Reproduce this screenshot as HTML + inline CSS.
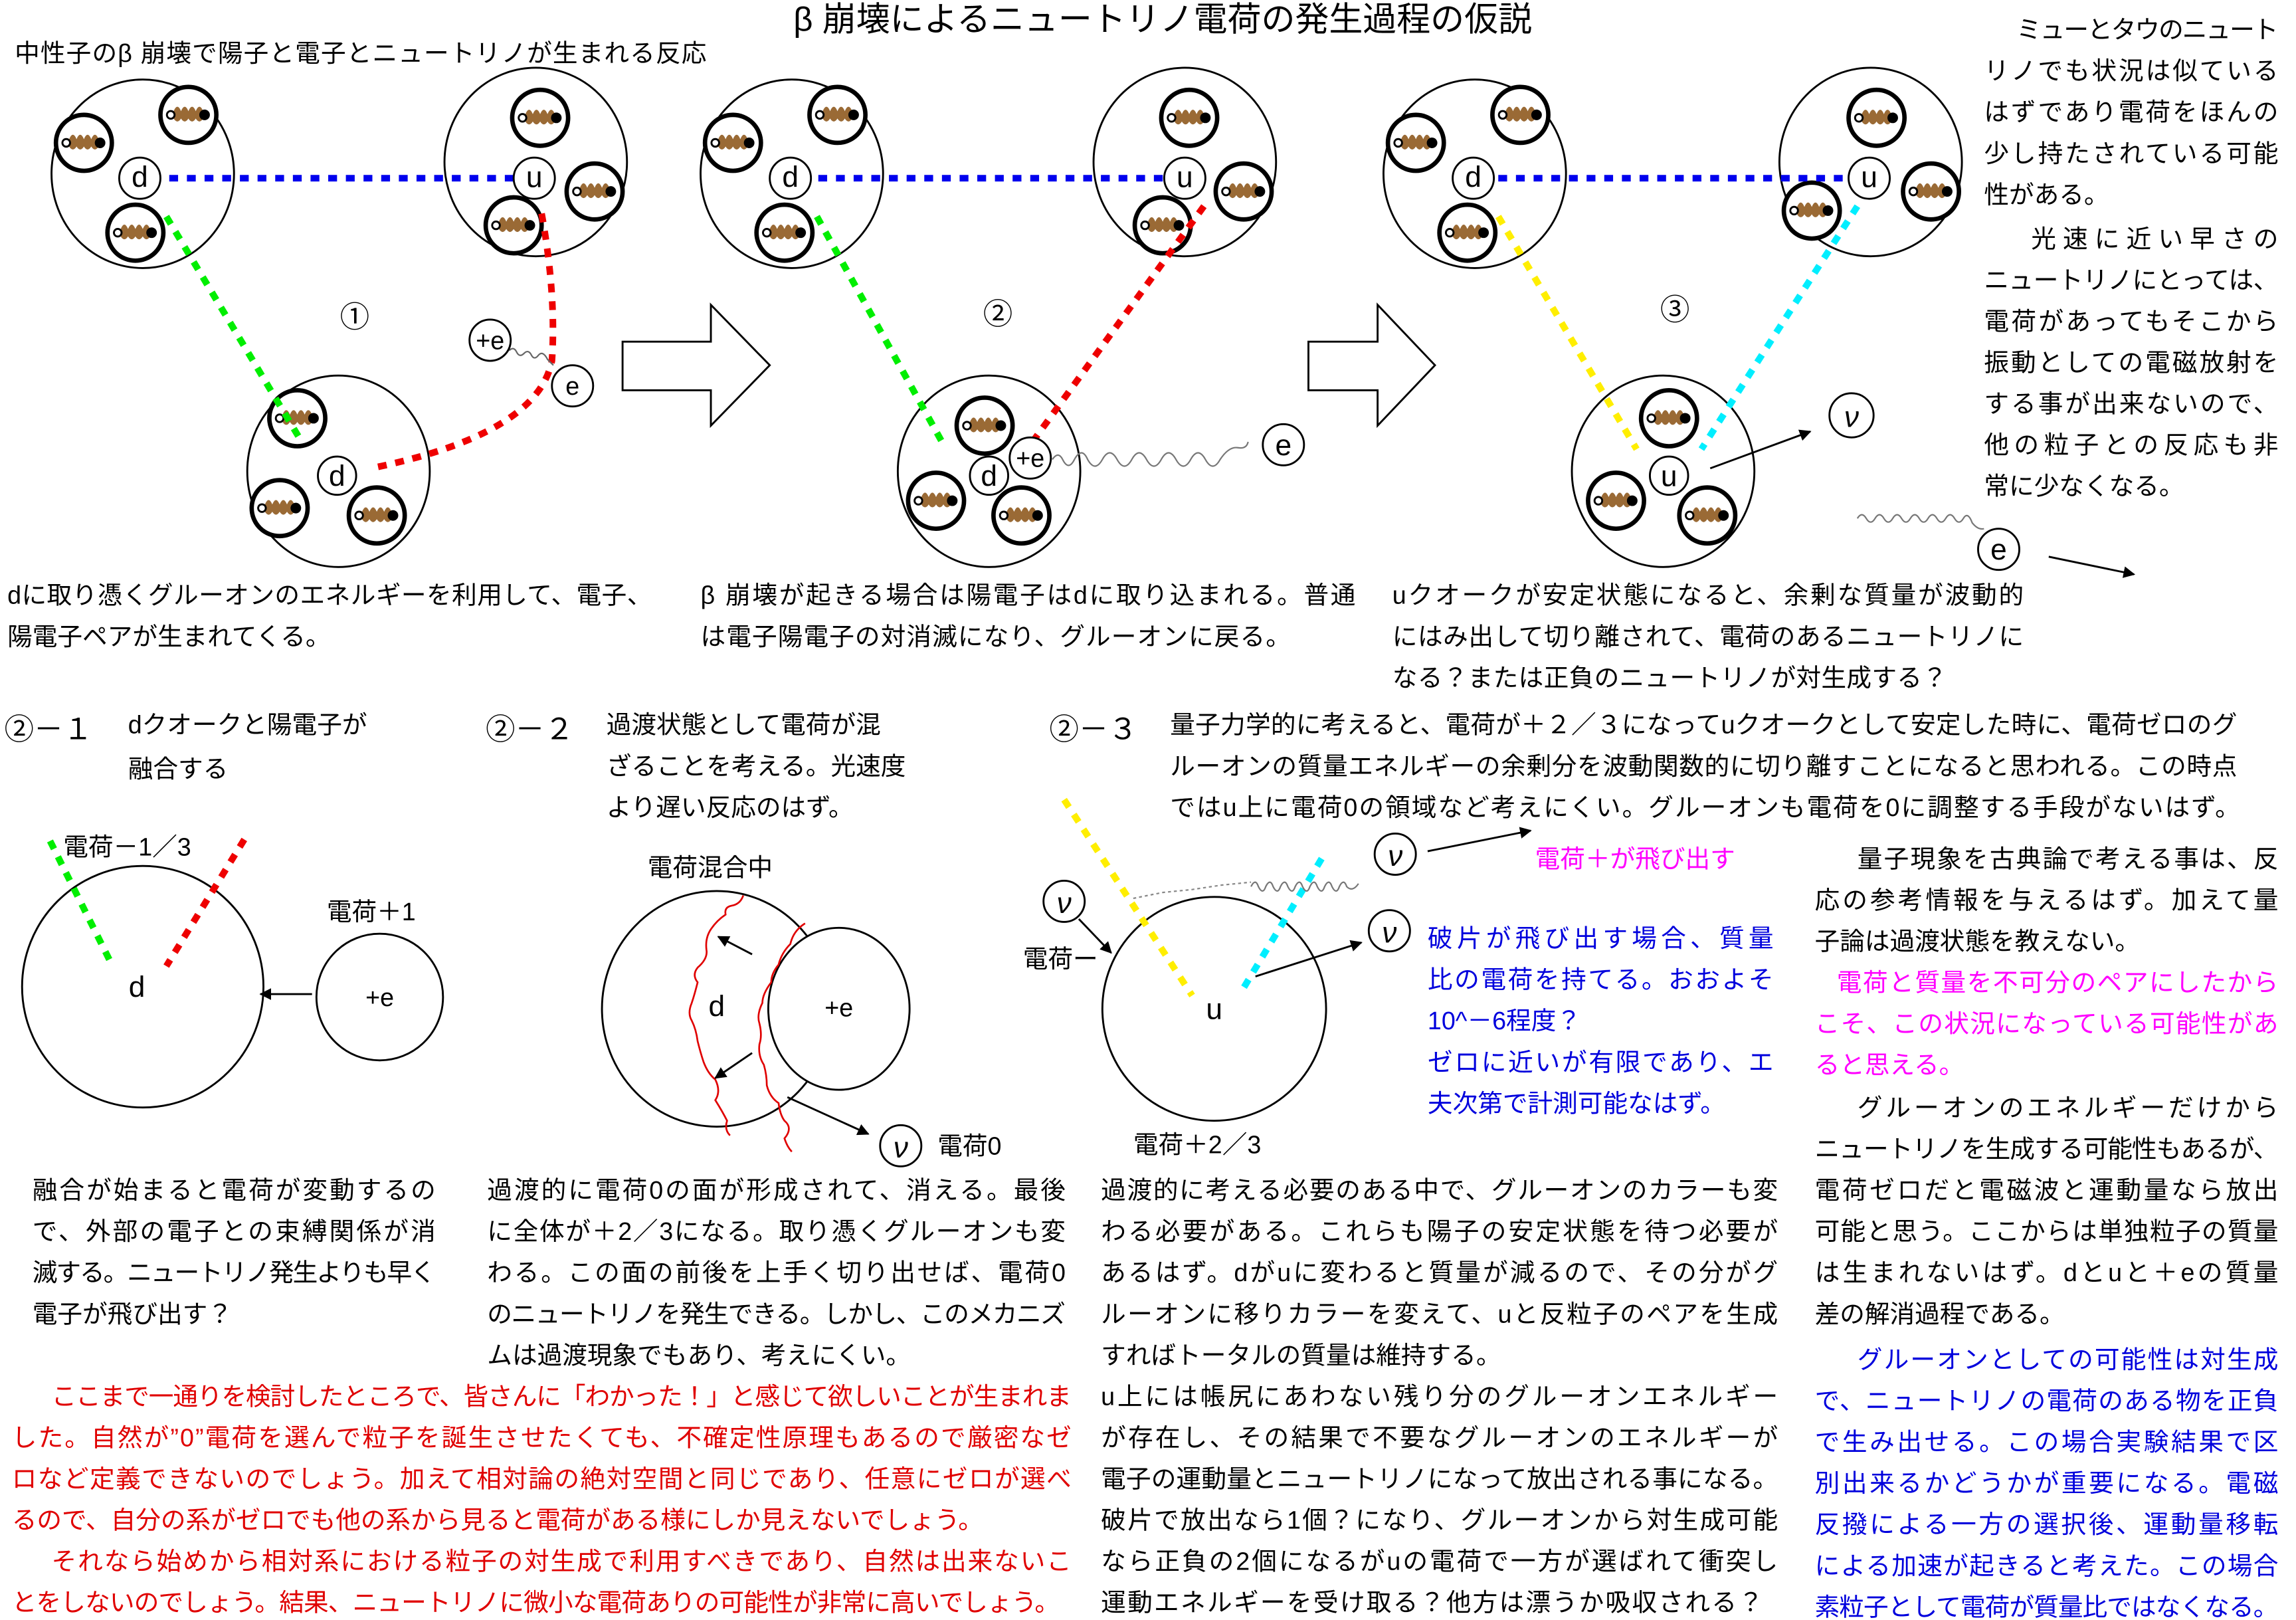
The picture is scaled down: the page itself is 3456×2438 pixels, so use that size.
<!DOCTYPE html>
<html><head><meta charset="utf-8"><style>
html,body{margin:0;padding:0;background:#fff;}
svg{display:block;}
text{font-family:"Liberation Sans","Noto Sans CJK JP",sans-serif;font-size:17px;fill:#000;}
.t{font-size:23px}
.s{font-size:20px}
.r{fill:#e00000}
.m{fill:#ff00ff}
.b{fill:#0000dd}
</style></head><body>
<svg width="3456" height="2438" viewBox="0 0 1560 1100" preserveAspectRatio="none" xmlns="http://www.w3.org/2000/svg">
<defs>
<g id="g">
<circle cx="0" cy="0" r="19" fill="#fff" stroke="#000" stroke-width="3"/>
<path d="M-10,-2.5 q2.5,-6 5,0 q2.5,-6 5,0 q2.5,-6 5,0 q2.5,-6 5,0 v5 q-2.5,4 -5,0 q-2.5,4 -5,0 q-2.5,4 -5,0 q-2.5,4 -5,0z" fill="#9a6a35"/>
<circle cx="-12" cy="0" r="2.6" fill="#fff" stroke="#000" stroke-width="1.3"/>
<circle cx="11" cy="0" r="3.6" fill="#000"/>
</g>
<marker id="ah" viewBox="0 0 10 10" refX="9" refY="5" markerWidth="8" markerHeight="8" orient="auto" markerUnits="userSpaceOnUse"><path d="M0,0L10,5L0,10z" fill="#000"/></marker>
</defs>
<rect width="1560" height="1100" fill="#fff"/>

<text class="t" x="790" y="21" text-anchor="middle">β 崩壊によるニュートリノ電荷の発生過程の仮説</text>
<text x="10" y="42" textLength="470">中性子のβ 崩壊で陽子と電子とニュートリノが生まれる反応</text>

<!-- panel 1 -->
<g fill="none" stroke="#000" stroke-width="1.3">
<ellipse cx="97" cy="118" rx="62" ry="64"/>
<ellipse cx="364" cy="110" rx="62" ry="64"/>
<ellipse cx="230" cy="320" rx="62" ry="65"/>
</g>
<use href="#g" x="57" y="97"/><use href="#g" x="128" y="78"/><use href="#g" x="92" y="158"/>
<use href="#g" x="367" y="80"/><use href="#g" x="404" y="130"/><use href="#g" x="349" y="153"/>
<use href="#g" x="202" y="284"/><use href="#g" x="190" y="345"/><use href="#g" x="256" y="350"/>
<line x1="115" y1="121" x2="350" y2="121" stroke="#0000ee" stroke-width="4.5" stroke-dasharray="6,6"/>
<line x1="113" y1="147" x2="205" y2="300" stroke="#00ee00" stroke-width="4.5" stroke-dasharray="6,6"/>
<path d="M368,145 Q378,200 375,245 Q365,295 252,318" fill="none" stroke="#ee0000" stroke-width="4.5" stroke-dasharray="6,6"/>
<circle cx="95" cy="121" r="14" fill="#fff" stroke="#000" stroke-width="1.3"/><text x="95" y="127" text-anchor="middle" class="s">d</text>
<circle cx="363" cy="121" r="14" fill="#fff" stroke="#000" stroke-width="1.3"/><text x="363" y="127" text-anchor="middle" class="s">u</text>
<circle cx="229" cy="323" r="13" fill="#fff" stroke="#000" stroke-width="1.3"/><text x="229" y="330" text-anchor="middle" class="s">d</text>
<text x="241" y="222" text-anchor="middle" class="s">①</text>
<path d="M346,238 q3,-3 5,1 q2,4 5,1 q3,-3 5,1 q2,4 5,0 q3,-3 6,3 l4,4" fill="none" stroke="#666" stroke-width="1"/>
<circle cx="333" cy="231" r="14" fill="#fff" stroke="#000" stroke-width="1.3"/><text x="333" y="237" text-anchor="middle">+e</text>
<circle cx="389" cy="262" r="14" fill="#fff" stroke="#000" stroke-width="1.3"/><text x="389" y="268" text-anchor="middle">e</text>
<path d="M423,232 H483 V207 L523,248 L483,289 V265 H423 Z" fill="#fff" stroke="#000" stroke-width="1.3"/>

<!-- panel 2 -->
<g fill="none" stroke="#000" stroke-width="1.3">
<ellipse cx="538" cy="118" rx="62" ry="64"/>
<ellipse cx="805" cy="110" rx="62" ry="64"/>
<ellipse cx="672" cy="320" rx="62" ry="65"/>
</g>
<use href="#g" x="498" y="97"/><use href="#g" x="569" y="78"/><use href="#g" x="533" y="158"/>
<use href="#g" x="808" y="80"/><use href="#g" x="845" y="130"/><use href="#g" x="790" y="153"/>
<use href="#g" x="669" y="289"/><use href="#g" x="636" y="340"/><use href="#g" x="694" y="350"/>
<line x1="556" y1="121" x2="791" y2="121" stroke="#0000ee" stroke-width="4.5" stroke-dasharray="6,6"/>
<line x1="555" y1="147" x2="640" y2="300" stroke="#00ee00" stroke-width="4.5" stroke-dasharray="6,6"/>
<line x1="818" y1="140" x2="703" y2="298" stroke="#ee0000" stroke-width="4.5" stroke-dasharray="6,6"/>
<circle cx="537" cy="121" r="14" fill="#fff" stroke="#000" stroke-width="1.3"/><text x="537" y="127" text-anchor="middle" class="s">d</text>
<circle cx="805" cy="121" r="14" fill="#fff" stroke="#000" stroke-width="1.3"/><text x="805" y="127" text-anchor="middle" class="s">u</text>
<circle cx="672" cy="323" r="13" fill="#fff" stroke="#000" stroke-width="1.3"/><text x="672" y="330" text-anchor="middle" class="s">d</text>
<path d="M715,312 q4,-6 7,0 q4,8 8,0 q5,-9 9,0 q5,9 10,0 q5,-9 10,0 q5,9 10,0 q5,-9 10,0 q5,9 10,0 q5,-9 10,0 q5,9 10,0 q5,-9 10,0 q5,9 10,0 q6,-9 12,-8 q6,1 7,-4" fill="none" stroke="#777" stroke-width="1"/>
<circle cx="700" cy="311" r="14" fill="#fff" stroke="#000" stroke-width="1.3"/><text x="700" y="317" text-anchor="middle">+e</text>
<circle cx="872" cy="302" r="14" fill="#fff" stroke="#000" stroke-width="1.3"/><text x="872" y="309" text-anchor="middle" class="s">e</text>
<text x="678" y="220" text-anchor="middle" class="s">②</text>
<path d="M889,232 H936 V207 L975,248 L936,289 V265 H889 Z" fill="#fff" stroke="#000" stroke-width="1.3"/>

<!-- panel 3 -->
<g fill="none" stroke="#000" stroke-width="1.3">
<ellipse cx="1002" cy="118" rx="62" ry="64"/>
<ellipse cx="1271" cy="110" rx="62" ry="64"/>
<ellipse cx="1130" cy="320" rx="62" ry="65"/>
</g>
<use href="#g" x="962" y="97"/><use href="#g" x="1033" y="78"/><use href="#g" x="997" y="158"/>
<use href="#g" x="1275" y="80"/><use href="#g" x="1312" y="130"/><use href="#g" x="1231" y="143"/>
<use href="#g" x="1134" y="284"/><use href="#g" x="1098" y="340"/><use href="#g" x="1160" y="350"/>
<line x1="1018" y1="121" x2="1257" y2="121" stroke="#0000ee" stroke-width="4.5" stroke-dasharray="6,6"/>
<line x1="1018" y1="147" x2="1112" y2="305" stroke="#ffee00" stroke-width="4.5" stroke-dasharray="6,6"/>
<line x1="1262" y1="140" x2="1156" y2="305" stroke="#00eeff" stroke-width="4.5" stroke-dasharray="6,6"/>
<circle cx="1001" cy="121" r="14" fill="#fff" stroke="#000" stroke-width="1.3"/><text x="1001" y="127" text-anchor="middle" class="s">d</text>
<circle cx="1270" cy="121" r="14" fill="#fff" stroke="#000" stroke-width="1.3"/><text x="1270" y="127" text-anchor="middle" class="s">u</text>
<circle cx="1134" cy="323" r="13" fill="#fff" stroke="#000" stroke-width="1.3"/><text x="1134" y="330" text-anchor="middle" class="s">u</text>
<text x="1138" y="217" text-anchor="middle" class="s">③</text>
<line x1="1162" y1="318" x2="1230" y2="293" stroke="#000" stroke-width="1.3" marker-end="url(#ah)"/>
<circle cx="1258" cy="282" r="15" fill="#fff" stroke="#000" stroke-width="1.3"/><text x="1258" y="290" text-anchor="middle" class="s" font-style="italic">ν</text>
<path d="M1262,352 q3,-5 6,0 q3,5 6,0 q3,-5 6,0 q3,5 6,0 q3,-5 6,0 q3,5 6,0 q3,-5 6,0 q3,5 6,0 q3,-5 6,0 q3,5 6,0 q3,-5 6,0 q3,5 6,0 q3,-5 6,3 q4,5 8,4" fill="none" stroke="#777" stroke-width="1"/>
<circle cx="1358" cy="373" r="14" fill="#fff" stroke="#000" stroke-width="1.3"/><text x="1358" y="380" text-anchor="middle" class="s">e</text>
<line x1="1392" y1="378" x2="1450" y2="390" stroke="#000" stroke-width="1.3" marker-end="url(#ah)"/>

<!-- right column -->
<text x="1370" y="26" textLength="178">ミューとタウのニュート</text>
<text x="1348" y="54" textLength="200">リノでも状況は似ている</text>
<text x="1348" y="82" textLength="200">はずであり電荷をほんの</text>
<text x="1348" y="110" textLength="200">少し持たされている可能</text>
<text x="1348" y="138">性がある。</text>
<text x="1380" y="168" textLength="168">光速に近い早さの</text>
<text x="1348" y="196" textLength="200">ニュートリノにとっては、</text>
<text x="1348" y="224" textLength="200">電荷があってもそこから</text>
<text x="1348" y="252" textLength="200">振動としての電磁放射を</text>
<text x="1348" y="280" textLength="200">する事が出来ないので、</text>
<text x="1348" y="308" textLength="200">他の粒子との反応も非</text>
<text x="1348" y="336">常に少なくなる。</text>

<!-- captions -->
<text x="5" y="410" textLength="438">dに取り憑くグルーオンのエネルギーを利用して、電子、</text>
<text x="5" y="438">陽電子ペアが生まれてくる。</text>
<text x="476" y="410" textLength="445">β 崩壊が起きる場合は陽電子はdに取り込まれる。普通</text>
<text x="476" y="438" textLength="401">は電子陽電子の対消滅になり、グルーオンに戻る。</text>
<text x="946" y="410" textLength="429">uクオークが安定状態になると、余剰な質量が波動的</text>
<text x="946" y="438" textLength="429">にはみ出して切り離されて、電荷のあるニュートリノに</text>
<text x="946" y="466" textLength="377">なる？または正負のニュートリノが対生成する？</text>

<!-- 2-1 -->
<text x="3" y="502" class="s">②－１</text>
<text x="87" y="498">dクオークと陽電子が</text>
<text x="87" y="528">融合する</text>
<text x="43" y="581">電荷－1／3</text>
<circle cx="97" cy="670" r="82" fill="none" stroke="#000" stroke-width="1.3"/>
<line x1="34" y1="571" x2="76" y2="655" stroke="#00ee00" stroke-width="4.5" stroke-dasharray="6,6"/>
<line x1="166" y1="570" x2="113" y2="656" stroke="#ee0000" stroke-width="4.5" stroke-dasharray="6,6"/>
<text x="93" y="677" text-anchor="middle" class="s">d</text>
<text x="222" y="625">電荷＋1</text>
<circle cx="258" cy="677" r="43" fill="none" stroke="#000" stroke-width="1.3"/>
<text x="258" y="683" text-anchor="middle">+e</text>
<line x1="212" y1="675" x2="177" y2="675" stroke="#000" stroke-width="1.3" marker-end="url(#ah)"/>
<text x="22" y="814" textLength="274">融合が始まると電荷が変動するの</text>
<text x="22" y="842" textLength="274">で、外部の電子との束縛関係が消</text>
<text x="22" y="870" textLength="274">滅する。ニュートリノ発生よりも早く</text>
<text x="22" y="898">電子が飛び出す？</text>

<!-- 2-2 -->
<text x="330" y="502" class="s">②－２</text>
<text x="412" y="498">過渡状態として電荷が混</text>
<text x="412" y="526">ざることを考える。光速度</text>
<text x="412" y="554">より遅い反応のはず。</text>
<text x="440" y="595">電荷混合中</text>
<ellipse cx="487" cy="685" rx="78" ry="80" fill="none" stroke="#000" stroke-width="1.3"/>
<ellipse cx="570" cy="685" rx="48" ry="55" fill="#fff" stroke="#000" stroke-width="1.3"/>
<path d="M505,608 q-2,6 -8,7 q-5,1 -4,6 q-6,4 -10,10 q-4,6 -3,14 q1,6 -6,12 q-4,5 0,10 q-2,8 -4,14 q-3,7 0,12 q3,6 4,14 q2,8 4,14 q3,8 8,12 q4,8 0,14 q5,8 8,14 q-2,6 2,10" fill="none" stroke="#e00000" stroke-width="1.2"/>
<path d="M547,627 q-8,5 -10,14 q-6,6 -8,14 q-5,6 -5,12 q-6,8 -6,14 q-4,8 -2,14 q2,8 0,14 q-1,8 3,14 q2,7 2,14 q2,8 8,12 q1,8 4,12 q6,5 0,12 q2,6 5,9" fill="none" stroke="#e00000" stroke-width="1.2"/>
<line x1="511" y1="648" x2="488" y2="636" stroke="#000" stroke-width="1.3" marker-end="url(#ah)"/>
<line x1="511" y1="715" x2="486" y2="732" stroke="#000" stroke-width="1.3" marker-end="url(#ah)"/>
<text x="487" y="690" text-anchor="middle" class="s">d</text>
<text x="570" y="690" text-anchor="middle">+e</text>
<line x1="535" y1="745" x2="590" y2="770" stroke="#000" stroke-width="1.3" marker-end="url(#ah)"/>
<circle cx="612" cy="778" r="14" fill="#fff" stroke="#000" stroke-width="1.3"/><text x="612" y="786" text-anchor="middle" class="s" font-style="italic">ν</text>
<text x="637" y="784">電荷0</text>
<text x="331" y="814" textLength="393">過渡的に電荷0の面が形成されて、消える。最後</text>
<text x="331" y="842" textLength="393">に全体が＋2／3になる。取り憑くグルーオンも変</text>
<text x="331" y="870" textLength="393">わる。この面の前後を上手く切り出せば、電荷0</text>
<text x="331" y="898" textLength="393">のニュートリノを発生できる。しかし、このメカニズ</text>
<text x="331" y="926">ムは過渡現象でもあり、考えにくい。</text>

<!-- 2-3 -->
<text x="713" y="502" class="s">②－３</text>
<text x="795" y="498" textLength="725">量子力学的に考えると、電荷が＋２／３になってuクオークとして安定した時に、電荷ゼロのグ</text>
<text x="795" y="526" textLength="725">ルーオンの質量エネルギーの余剰分を波動関数的に切り離すことになると思われる。この時点</text>
<text x="795" y="554" textLength="727">ではu上に電荷0の領域など考えにくい。グルーオンも電荷を0に調整する手段がないはず。</text>
<circle cx="825" cy="685" r="76" fill="none" stroke="#000" stroke-width="1.3"/>
<line x1="723" y1="543" x2="810" y2="676" stroke="#ffee00" stroke-width="4.5" stroke-dasharray="6,6"/>
<line x1="898" y1="583" x2="843" y2="674" stroke="#00eeff" stroke-width="4.5" stroke-dasharray="6,6"/>
<path d="M770,610 l20,-4 l20,-2 l20,-3 l20,-2" fill="none" stroke="#888" stroke-width="1" stroke-dasharray="2,2"/>
<path d="M850,602 q3,-6 5,0 q3,6 5,0 q3,-6 5,0 q3,6 5,0 q3,-6 5,0 q3,6 5,0 q3,-6 5,0 q3,6 5,0 q3,-6 5,0 q3,6 5,0 q3,-6 5,0 q3,6 5,0 q3,-6 5,0 q4,4 8,-2" fill="none" stroke="#777" stroke-width="1"/>
<circle cx="723" cy="612" r="14" fill="#fff" stroke="#000" stroke-width="1.3"/><text x="723" y="620" text-anchor="middle" class="s" font-style="italic">ν</text>
<line x1="733" y1="624" x2="755" y2="647" stroke="#000" stroke-width="1.3" marker-end="url(#ah)"/>
<text x="695" y="657">電荷ー</text>
<circle cx="948" cy="580" r="14" fill="#fff" stroke="#000" stroke-width="1.3"/><text x="948" y="588" text-anchor="middle" class="s" font-style="italic">ν</text>
<line x1="970" y1="578" x2="1040" y2="564" stroke="#000" stroke-width="1.3" marker-end="url(#ah)"/>
<text x="1043" y="589" class="m">電荷＋が飛び出す</text>
<circle cx="944" cy="632" r="14" fill="#fff" stroke="#000" stroke-width="1.3"/><text x="944" y="640" text-anchor="middle" class="s" font-style="italic">ν</text>
<line x1="853" y1="663" x2="925" y2="640" stroke="#000" stroke-width="1.3" marker-end="url(#ah)"/>
<text x="970" y="643" class="b" textLength="235">破片が飛び出す場合、質量</text>
<text x="970" y="671" class="b" textLength="235">比の電荷を持てる。おおよそ</text>
<text x="970" y="699" class="b">10^－6程度？</text>
<text x="970" y="727" class="b" textLength="235">ゼロに近いが有限であり、エ</text>
<text x="970" y="755" class="b">夫次第で計測可能なはず。</text>
<text x="825" y="692" text-anchor="middle" class="s">u</text>
<text x="770" y="783">電荷＋2／3</text>
<text x="748" y="814" textLength="460">過渡的に考える必要のある中で、グルーオンのカラーも変</text>
<text x="748" y="842" textLength="460">わる必要がある。これらも陽子の安定状態を待つ必要が</text>
<text x="748" y="870" textLength="460">あるはず。dがuに変わると質量が減るので、その分がグ</text>
<text x="748" y="898" textLength="460">ルーオンに移りカラーを変えて、uと反粒子のペアを生成</text>
<text x="748" y="926">すればトータルの質量は維持する。</text>
<text x="748" y="954" textLength="460">u上には帳尻にあわない残り分のグルーオンエネルギー</text>
<text x="748" y="982" textLength="460">が存在し、その結果で不要なグルーオンのエネルギーが</text>
<text x="748" y="1010" textLength="460">電子の運動量とニュートリノになって放出される事になる。</text>
<text x="748" y="1038" textLength="460">破片で放出なら1個？になり、グルーオンから対生成可能</text>
<text x="748" y="1066" textLength="460">なら正負の2個になるがuの電荷で一方が選ばれて衝突し</text>
<text x="748" y="1094" textLength="450">運動エネルギーを受け取る？他方は漂うか吸収される？</text>

<!-- right bottom -->
<text x="1262" y="589" textLength="286">量子現象を古典論で考える事は、反</text>
<text x="1233" y="617" textLength="315">応の参考情報を与えるはず。加えて量</text>
<text x="1233" y="645">子論は過渡状態を教えない。</text>
<text x="1248" y="673" class="m" textLength="300">電荷と質量を不可分のペアにしたから</text>
<text x="1233" y="701" class="m" textLength="315">こそ、この状況になっている可能性があ</text>
<text x="1233" y="729" class="m">ると思える。</text>
<text x="1262" y="758" textLength="286">グルーオンのエネルギーだけから</text>
<text x="1233" y="786" textLength="315">ニュートリノを生成する可能性もあるが、</text>
<text x="1233" y="814" textLength="315">電荷ゼロだと電磁波と運動量なら放出</text>
<text x="1233" y="842" textLength="315">可能と思う。ここからは単独粒子の質量</text>
<text x="1233" y="870" textLength="315">は生まれないはず。dとuと＋eの質量</text>
<text x="1233" y="898">差の解消過程である。</text>
<text x="1262" y="929" class="b" textLength="286">グルーオンとしての可能性は対生成</text>
<text x="1233" y="957" class="b" textLength="315">で、ニュートリノの電荷のある物を正負</text>
<text x="1233" y="985" class="b" textLength="315">で生み出せる。この場合実験結果で区</text>
<text x="1233" y="1013" class="b" textLength="315">別出来るかどうかが重要になる。電磁</text>
<text x="1233" y="1041" class="b" textLength="315">反撥による一方の選択後、運動量移転</text>
<text x="1233" y="1069" class="b" textLength="315">による加速が起きると考えた。この場合</text>
<text x="1233" y="1097" class="b" textLength="315">素粒子として電荷が質量比ではなくなる。</text>

<!-- red text -->
<text x="35" y="954" class="r" textLength="693">ここまで一通りを検討したところで、皆さんに「わかった！」と感じて欲しいことが生まれま</text>
<text x="8" y="982" class="r" textLength="720">した。自然が”0”電荷を選んで粒子を誕生させたくても、不確定性原理もあるので厳密なゼ</text>
<text x="8" y="1010" class="r" textLength="720">ロなど定義できないのでしょう。加えて相対論の絶対空間と同じであり、任意にゼロが選べ</text>
<text x="8" y="1038" class="r" textLength="660">るので、自分の系がゼロでも他の系から見ると電荷がある様にしか見えないでしょう。</text>
<text x="35" y="1066" class="r" textLength="693">それなら始めから相対系における粒子の対生成で利用すべきであり、自然は出来ないこ</text>
<text x="8" y="1094" class="r" textLength="712">とをしないのでしょう。結果、ニュートリノに微小な電荷ありの可能性が非常に高いでしょう。</text>
</svg>
</body></html>
